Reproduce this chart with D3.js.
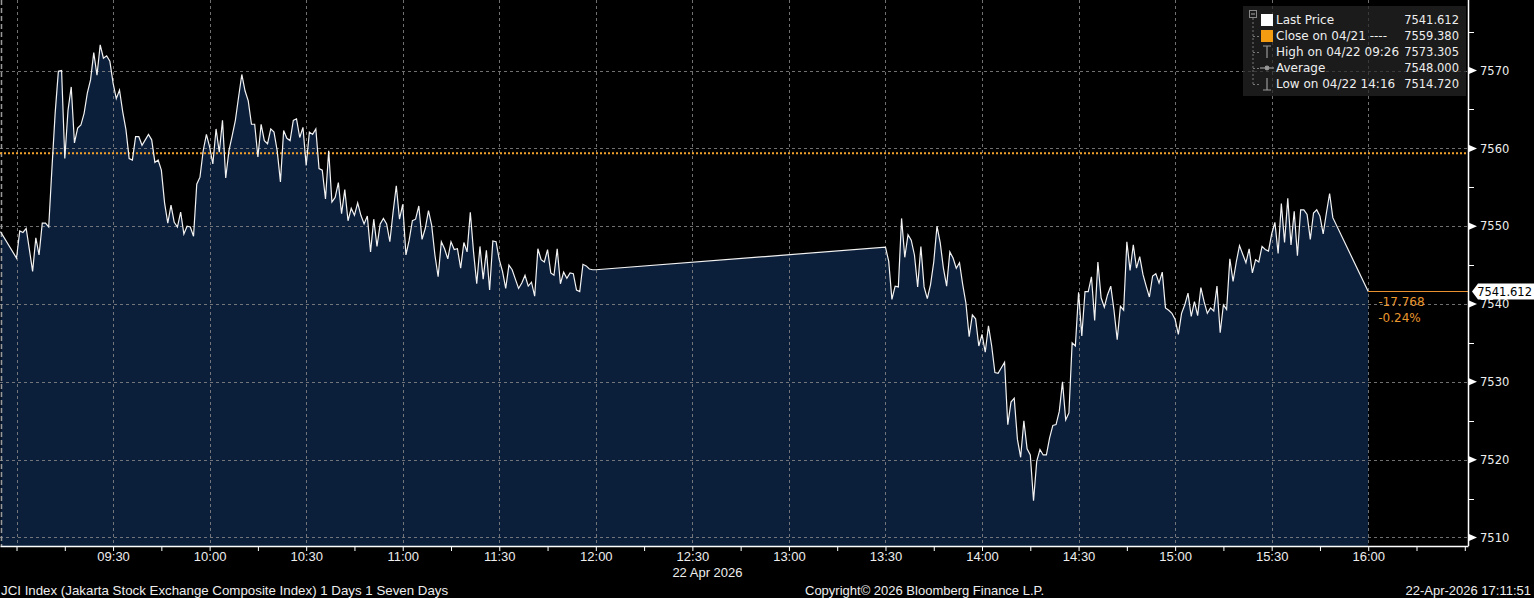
<!DOCTYPE html>
<html><head><meta charset="utf-8">
<script src="https://cdn.jsdelivr.net/npm/d3@7"></script>
<style>
html,body{margin:0;padding:0;background:#000;overflow:hidden}
svg{display:block}
</style></head><body>
<svg id="c" width="1534" height="598"></svg>
<script>
// ---------------- data ----------------
const sessionDate = "2026-04-22";
const preOpenTime = "08:55";
const preOpenPrice = 7549.3;
const amStart = "09:00";           // one price per minute from here
const amPrices = [
7545.9,7549.4,7549.2,7549.7,7547.0,7544.2,7548.5,7546.3,7550.4,7550.4,
7549.9,7557.4,7564.5,7569.9,7570.0,7558.7,7564.9,7567.9,7560.7,7562.6,
7563.0,7564.5,7567.1,7568.8,7572.3,7569.4,7573.3,7571.6,7571.9,7571.2,
7568.4,7566.4,7567.5,7564.7,7562.4,7558.7,7558.5,7561.5,7561.5,7560.4,
7561.1,7561.8,7561.1,7558.2,7558.5,7557.2,7553.0,7550.4,7552.7,7550.5,
7549.9,7551.8,7549.0,7550.0,7549.9,7548.7,7555.4,7556.3,7559.7,7561.8,
7560.2,7558.0,7562.5,7559.5,7563.6,7556.2,7559.7,7561.6,7563.6,7566.6,
7569.5,7567.4,7566.1,7563.1,7563.1,7558.9,7563.1,7561.0,7560.6,7562.5,
7562.1,7559.7,7555.7,7562.3,7561.3,7561.0,7563.6,7563.8,7561.4,7562.7,
7557.8,7562.1,7561.8,7562.5,7557.4,7557.2,7553.5,7559.7,7553.1,7553.7,
7555.6,7551.6,7554.7,7550.7,7552.3,7551.4,7553.0,7551.4,7550.3,7551.3,
7546.7,7550.9,7547.4,7550.3,7551.0,7550.3,7548.0,7551.8,7555.2,7550.9,
7552.8,7546.3,7548.2,7550.7,7550.9,7552.6,7548.3,7549.7,7552.0,7550.1,
7546.3,7543.5,7548.0,7547.1,7545.8,7548.0,7547.0,7547.1,7544.6,7547.9,
7546.7,7551.8,7546.7,7542.6,7547.4,7543.2,7546.9,7541.8,7548.1,7548.0,
7545.7,7544.2,7542.0,7545.0,7544.4,7543.2,7542.0,7542.7,7543.7,7542.3,
7542.8,7541.0,7547.1,7545.7,7545.4,7547.0,7544.0,7543.7,7547.1,7542.6,
7544.1,7543.3,7544.0,7543.9,7541.8,7541.6,7545.1,7544.9,7544.5,7544.4,
7544.4];
const pmStart = "13:30";           // one price per minute from here
const pmPrices = [
7547.3,7545.5,7540.6,7542.3,7542.2,7551.0,7546.0,7548.9,7548.2,7546.3,
7542.2,7547.4,7542.2,7540.7,7542.5,7545.4,7550.0,7547.9,7544.6,7542.3,
7546.7,7545.9,7544.6,7545.3,7542.5,7540.1,7535.8,7538.6,7538.1,7534.6,
7536.1,7533.8,7537.2,7534.6,7531.2,7531.1,7531.8,7532.5,7524.5,7527.4,
7527.9,7522.6,7520.3,7525.0,7521.4,7520.6,7514.72,7519.8,7521.3,7520.6,
7520.6,7522.8,7524.4,7524.5,7526.2,7530.0,7525.1,7526.0,7535.0,7534.6,
7541.5,7535.9,7541.6,7541.6,7543.5,7537.9,7545.4,7540.8,7539.6,7541.2,
7542.3,7539.2,7535.4,7539.7,7539.2,7548.0,7544.3,7547.6,7544.6,7546.1,
7543.8,7542.3,7540.9,7543.6,7543.9,7542.7,7544.1,7539.5,7539.2,7538.8,
7538.0,7536.1,7538.8,7539.9,7541.4,7538.4,7540.3,7538.5,7542.1,7540.3,
7538.8,7539.5,7539.1,7542.3,7536.3,7539.9,7539.3,7545.8,7542.9,7545.4,
7547.5,7546.4,7545.3,7547.1,7544.0,7545.7,7545.4,7547.4,7547.0,7546.8,
7549.0,7550.5,7546.5,7552.9,7547.9,7553.6,7547.6,7551.9,7546.2,7552.1,
7552.1,7551.5,7548.3,7551.7,7552.1,7551.3,7549.0,7551.7,7554.2,7551.1];
const closeTime = "16:00";
const lastPrice = 7541.612;
const prevClose = 7559.38;
const yTicks = [7510, 7520, 7530, 7540, 7550, 7560, 7570];
const yMinorTicks = [7515, 7525, 7535, 7545, 7555, 7565, 7575];
const xLabelTimes = ["09:30","10:00","10:30","11:00","11:30","12:00","12:30","13:00","13:30","14:00","14:30","15:00","15:30","16:00"];
const xGridTimes = ["09:00","09:30","10:00","10:30","11:00","11:30","12:00","12:30","13:00","13:30","14:00","14:30","15:00","15:30","16:00"];
const legendLabels = ["Last Price","Close on 04/21 ----","High on 04/22 09:26","Average","Low on 04/22 14:16"];
const legendValues = ["7541.612","7559.380","7573.305","7548.000","7514.720"];
const changeLabels = ["-17.768","-0.24%"];
const dateLabel = "22 Apr 2026";
const footerLeft = "JCI Index (Jakarta Stock Exchange Composite Index) 1 Days 1 Seven Days";
const footerMid = "Copyright\u00A9 2026 Bloomberg Finance L.P.";
const footerRight = "22-Apr-2026 17:11:51";

// ---------------- build ----------------
const parseT = d3.timeParse("%Y-%m-%d %H:%M:%S");
const T = s => parseT(sessionDate + " " + (s.length === 5 ? s + ":00" : s));
const points = [{t: T(preOpenTime), v: preOpenPrice}];
amPrices.forEach((v, i) => points.push({t: d3.timeMinute.offset(T(amStart), i), v}));
pmPrices.forEach((v, i) => points.push({t: d3.timeMinute.offset(T(pmStart), i), v}));
points.push({t: T(closeTime), v: lastPrice});

const PR = 1468, PB = 546;
const x = d3.scaleTime().domain([T("08:54:52"), T("16:31:00")]).range([0, PR]);
const y = d3.scaleLinear().domain([7508.9, 7579.07]).range([PB, 0]);

const svg = d3.select("#c");
svg.append("rect").attr("width", 1534).attr("height", 598).attr("fill", "#000");

// area + grid
svg.append("path").datum(points)
  .attr("d", d3.area().x(d => x(d.t)).y0(PB).y1(d => y(d.v)))
  .attr("fill", "#0b1f3b");

const grid = svg.append("g").attr("stroke", "#8c8c8c").attr("stroke-width", 1)
  .attr("stroke-dasharray", "3,3").attr("shape-rendering", "crispEdges").attr("opacity", 0.8);
grid.selectAll("line.h").data(yTicks).join("line")
  .attr("x1", 0).attr("x2", PR).attr("y1", d => Math.round(y(d)) + 0.5).attr("y2", d => Math.round(y(d)) + 0.5);
grid.selectAll("line.v").data(xGridTimes).join("line")
  .attr("y1", 0).attr("y2", PB).attr("x1", d => Math.round(x(T(d))) + 0.5).attr("x2", d => Math.round(x(T(d))) + 0.5);
// left border dashed
svg.append("line").attr("x1", 1.5).attr("x2", 1.5).attr("y1", 0).attr("y2", PB)
  .attr("stroke", "#9a9a9a").attr("stroke-width", 1.5).attr("stroke-dasharray", "5,3");

// prev close dotted
svg.append("line").attr("x1", 0).attr("x2", PR).attr("y1", y(prevClose)).attr("y2", y(prevClose))
  .attr("stroke", "#f2a02c").attr("stroke-width", 2).attr("stroke-dasharray", "2,2");

// price line
svg.append("path").datum(points)
  .attr("d", d3.line().x(d => x(d.t)).y(d => y(d.v)))
  .attr("fill", "none").attr("stroke", "#f2f2f2").attr("stroke-width", 1.2);

// last price line
const yl = Math.round(y(lastPrice)) + 0.5;
svg.append("line").attr("x1", x(T(closeTime))).attr("x2", PR).attr("y1", yl).attr("y2", yl)
  .attr("stroke", "#e8912e").attr("stroke-width", 1);
svg.selectAll("text.chg").data(changeLabels).join("text")
  .attr("x", x(T(closeTime)) + 10).attr("y", (d, i) => yl + 14 + i * 16)
  .attr("fill", "#e8962e").attr("font-family", "DejaVu Sans, sans-serif").attr("font-size", 12)
  .text(d => d);

// bottom axis
const quarterTicks = d3.timeMinute.every(15).range(T("09:00"), T("16:31"));
const labelSet = new Set(xLabelTimes);
const fmt = d3.timeFormat("%H:%M");
const xAxis = d3.axisBottom(x).tickValues(quarterTicks).tickSize(5).tickSizeOuter(0)
  .tickFormat(d => labelSet.has(fmt(d)) ? fmt(d) : "");
const gx = svg.append("g").attr("transform", `translate(0,${PB})`).call(xAxis);
gx.select(".domain").attr("stroke", "#fff").attr("stroke-width", 1.5);
gx.selectAll(".tick line").attr("stroke", "#fff");
gx.selectAll(".tick text").attr("fill", "#eee").attr("font-family", "Liberation Sans, Arial, sans-serif")
  .attr("font-size", 13).attr("dy", "0.35em").attr("y", 10);
svg.append("text").attr("x", x(T("12:30")) - 20).attr("y", 577).attr("fill", "#eee")
  .attr("font-family", "Liberation Sans, Arial, sans-serif").attr("font-size", 13).text(dateLabel);

// right axis
svg.append("line").attr("x1", PR + 0.5).attr("x2", PR + 0.5).attr("y1", 0).attr("y2", PB)
  .attr("stroke", "#fff").attr("stroke-width", 1.5);
const ry = svg.append("g");
ry.selectAll("path.tri").data(yTicks).join("path")
  .attr("d", d => `M${PR + 1},${y(d) - 3.5}L${PR + 9},${y(d)}L${PR + 1},${y(d) + 3.5}Z`).attr("fill", "#fff");
ry.selectAll("line.minor").data(yMinorTicks).join("line")
  .attr("x1", PR).attr("x2", PR + 6).attr("y1", d => Math.round(y(d)) + 0.5).attr("y2", d => Math.round(y(d)) + 0.5)
  .attr("stroke", "#fff");
ry.selectAll("text").data(yTicks).join("text")
  .attr("x", PR + 12).attr("y", d => y(d)).attr("dy", "0.36em")
  .attr("fill", "#eee").attr("font-family", "DejaVu Sans, sans-serif").attr("font-size", 11.5)
  .text(d => d);

// last price tag
const tag = svg.append("g");
tag.append("path").attr("d", `M${PR + 4},${yl}L${PR + 10},${yl - 8}L1534,${yl - 8}L1534,${yl + 8}L${PR + 10},${yl + 8}Z`)
  .attr("fill", "#fff");
tag.append("text").attr("x", 1532).attr("y", yl).attr("dy", "0.36em").attr("text-anchor", "end")
  .attr("font-family", "DejaVu Sans, sans-serif").attr("font-size", 11.5).attr("fill", "#000")
  .text(d3.format(".3f")(lastPrice));

// legend
const lg = svg.append("g").attr("transform", "translate(1243,6)");
lg.append("rect").attr("width", 223).attr("height", 90).attr("fill", "rgba(38,38,38,0.72)");
const rowY = i => 14 + i * 16;
// tree
lg.append("rect").attr("x", 6.5).attr("y", 4.5).attr("width", 7).attr("height", 7).attr("fill", "none").attr("stroke", "#888");
lg.append("line").attr("x1", 8).attr("x2", 12).attr("y1", 8).attr("y2", 8).attr("stroke", "#aaa");
lg.append("line").attr("x1", 10).attr("x2", 10).attr("y1", 12).attr("y2", rowY(4)).attr("stroke", "#777").attr("stroke-dasharray", "2,2");
lg.selectAll("line.br").data(d3.range(1, 5)).join("line")
  .attr("x1", 10).attr("x2", 16).attr("y1", i => rowY(i) + 0.5).attr("y2", i => rowY(i) + 0.5)
  .attr("stroke", "#777").attr("stroke-dasharray", "2,2");
// icons
lg.append("rect").attr("x", 18).attr("y", rowY(0) - 6).attr("width", 12).attr("height", 12).attr("fill", "#fff");
lg.append("rect").attr("x", 18).attr("y", rowY(1) - 6).attr("width", 12).attr("height", 12).attr("fill", "#f39c12");
const ic = lg.append("g").attr("stroke", "#999").attr("fill", "none").attr("stroke-width", 1.2);
ic.append("path").attr("d", `M20,${rowY(2) - 6}H28M24,${rowY(2) - 6}V${rowY(2) + 6}`);
ic.append("path").attr("d", `M17,${rowY(3)}H31`);
ic.append("circle").attr("cx", 24).attr("cy", rowY(3)).attr("r", 1.8).attr("fill", "#999");
ic.append("path").attr("d", `M20,${rowY(4) + 6}H28M24,${rowY(4) - 6}V${rowY(4) + 6}`);
lg.selectAll("text.lab").data(legendLabels).join("text")
  .attr("x", 33).attr("y", (d, i) => rowY(i)).attr("dy", "0.36em")
  .attr("fill", "#eee").attr("font-family", "DejaVu Sans, sans-serif").attr("font-size", 12).text(d => d);
lg.selectAll("text.val").data(legendValues).join("text")
  .attr("x", 216).attr("y", (d, i) => rowY(i)).attr("dy", "0.36em").attr("text-anchor", "end")
  .attr("fill", "#eee").attr("font-family", "DejaVu Sans, sans-serif").attr("font-size", 11.5).text(d => d);

// footer
const ff = "Liberation Sans, Arial, sans-serif";
svg.append("text").attr("x", 1).attr("y", 595).attr("fill", "#eee").attr("font-family", ff).attr("font-size", 13.3).text(footerLeft);
svg.append("text").attr("x", 805).attr("y", 595).attr("fill", "#eee").attr("font-family", ff).attr("font-size", 13).text(footerMid);
svg.append("text").attr("x", 1531).attr("y", 595).attr("text-anchor", "end").attr("fill", "#eee").attr("font-family", ff).attr("font-size", 13).text(footerRight);
</script>
</body></html>
